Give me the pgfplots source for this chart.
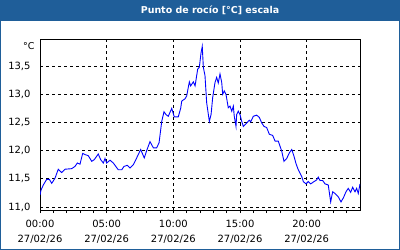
\documentclass[border=0pt]{standalone}
\usepackage{pgfplots}
\pgfplotsset{compat=1.18}
\usepackage{fontspec}
\setmainfont{DejaVu Sans}
\definecolor{titlebar}{RGB}{31,94,153}
\begin{document}
\begin{tikzpicture}[x=1bp,y=1bp]
\useasboundingbox (0,0) rectangle (400,250);
\fill[titlebar] (0,0) rectangle (400,250);
\fill[white] (1.5,1.5) rectangle (398.5,229);
\node[text=white,font=\bfseries\fontsize{9.5}{11}\selectfont] at (210,239.5) {Punto de rocío [°C] escala};
\begin{axis}[
  at={(40bp,40bp)}, anchor=south west,
  scale only axis, width=320bp, height=170bp,
  xmin=0, xmax=24, ymin=10.946, ymax=13.964,
  xtick={0,5,10,15,20},
  xticklabels={{00:00\\27/02/26},{05:00\\27/02/26},{10:00\\27/02/26},{15:00\\27/02/26},{20:00\\27/02/26}},
  minor xtick={1,2,3,4,6,7,8,9,11,12,13,14,16,17,18,19,21,22,23},
  ytick={11,11.5,12,12.5,13,13.5},
  yticklabel style={/pgf/number format/fixed,/pgf/number format/fixed zerofill,/pgf/number format/precision=1,/pgf/number format/use comma, xshift=-3bp},
  /pgf/number format/assume math mode=true,
  tick label style={font=\fontsize{10}{15}\selectfont, text=black},
  xticklabel style={align=center, anchor=north, yshift=-3.5bp},
  x tick style={black, line width=0.8bp},
  xtick pos=bottom, tick align=outside,
  major tick length=3bp, minor tick length=3bp,
  ytick style={draw=none},
  grid=major,
  major grid style={black, line width=0.8bp, dash pattern=on 3bp off 3bp},
  axis line style={black, line width=1bp},
  clip=true,
]
\addplot[blue, line width=0.9bp] coordinates {
(0,11.21) (0.075,11.30) (0.25,11.39) (0.50,11.49) (0.70,11.49) (0.88,11.42)
(1.125,11.51) (1.37,11.67) (1.63,11.61) (1.875,11.67) (2.38,11.68) (2.625,11.72)
(2.80,11.78) (3.0,11.76) (3.20,11.95) (3.375,11.93) (3.62,11.91) (3.88,11.81)
(4.07,11.84) (4.37,11.94) (4.55,11.84) (4.75,11.78) (4.875,11.86) (5.0,11.78)
(5.25,11.83) (5.50,11.78) (5.87,11.66) (6.13,11.66) (6.30,11.72) (6.55,11.74)
(6.75,11.69) (7.0,11.75) (7.25,11.87) (7.55,12.02) (7.82,11.87) (8.0,12.00)
(8.25,12.16) (8.50,12.05) (8.75,12.05) (8.93,12.14) (9.05,12.37) (9.13,12.52)
(9.30,12.69) (9.45,12.64) (9.62,12.61) (9.88,12.75) (10.07,12.60) (10.37,12.60)
(10.55,12.75) (10.63,12.88) (10.875,12.92) (11.0,12.97) (11.20,13.22) (11.30,13.15)
(11.50,13.22) (11.63,13.15) (11.83,13.45) (11.95,13.48) (12.08,13.74) (12.17,13.85)
(12.25,13.48) (12.375,13.33) (12.50,12.85) (12.70,12.52) (12.83,12.64) (12.95,12.94)
(13.125,13.21) (13.25,13.30) (13.37,13.20) (13.5,13.36) (13.63,13.21) (13.70,13.00)
(13.82,13.06) (13.95,13.00) (14.12,12.76) (14.25,12.79) (14.38,12.70) (14.50,12.79)
(14.57,12.61) (14.70,12.43) (14.75,12.64) (14.87,12.70) (15.0,12.64) (15.13,12.52)
(15.25,12.43) (15.50,12.49) (15.70,12.54) (15.80,12.51) (16.0,12.61) (16.25,12.63)
(16.45,12.59) (16.63,12.49) (16.80,12.43) (17.0,12.41) (17.20,12.29) (17.45,12.27)
(17.63,12.17) (17.87,12.17) (18.0,12.08) (18.13,11.99) (18.30,11.81) (18.50,11.86)
(18.70,11.96) (18.88,12.02) (19.05,11.90) (19.20,11.77) (19.37,11.66) (19.63,11.54)
(19.75,11.45) (19.95,11.41) (20.12,11.45) (20.30,11.41) (20.55,11.45) (20.75,11.48)
(20.87,11.53) (21.0,11.47) (21.20,11.47) (21.375,11.41) (21.62,11.39) (21.80,11.09)
(21.95,11.27) (22.125,11.24) (22.37,11.18) (22.575,11.09) (22.75,11.16) (22.95,11.27)
(23.12,11.33) (23.30,11.26) (23.45,11.35) (23.625,11.27) (23.75,11.33) (23.87,11.24)
(24.0,11.41)
};
\end{axis}
\node[anchor=east,font=\fontsize{9.5}{11}\selectfont] at (38,204) {°C};
\end{tikzpicture}
\end{document}
